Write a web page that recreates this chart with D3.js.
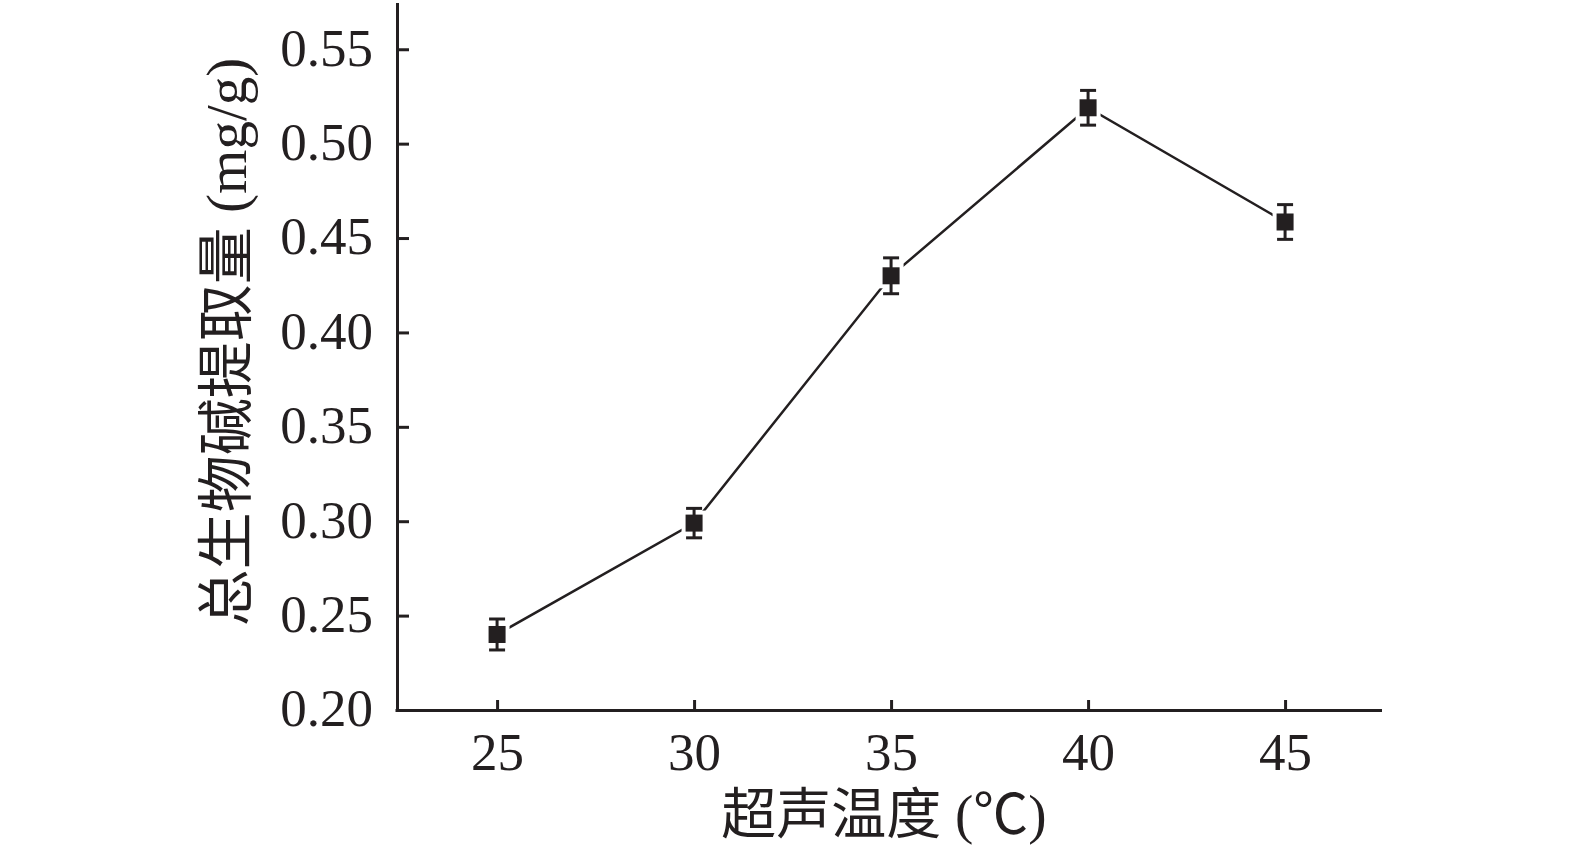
<!DOCTYPE html>
<html><head><meta charset="utf-8">
<script src="https://cdn.jsdelivr.net/npm/d3@7"></script>
<style>
html,body{margin:0;padding:0;background:#fff;}
svg{display:block;}
</style></head>
<body>
<script>
const temps = [25, 30, 35, 40, 45];
const amounts = [0.240, 0.299, 0.430, 0.519, 0.4585];
const errors = [0.0082, 0.0078, 0.0095, 0.0092, 0.0092];
const xTicks = [25, 30, 35, 40, 45];
const yTicks = [0.20, 0.25, 0.30, 0.35, 0.40, 0.45, 0.50, 0.55];
const xTitle = "超声温度 (℃)";
const yTitle = "总生物碱提取量 (mg/g)";

const W = 1575, H = 856;
const ink = "#231f20";
const font = "'Liberation Serif', 'Times New Roman', 'Noto Sans CJK SC', serif";
const svg = d3.select("body").append("svg").attr("width", W).attr("height", H);

const x = d3.scaleLinear().domain([22.46, 47.46]).range([397, 1382]);
const y = d3.scaleLinear().domain([0.20, 0.5745]).range([710, 3]);

// axes
const yAxis = d3.axisLeft(y).tickValues(yTicks).tickSize(-12).tickPadding(24).tickFormat(d3.format(".2f"));
const gy = svg.append("g").attr("transform", `translate(${x.range()[0]},0)`).call(yAxis);
const xAxis = d3.axisBottom(x).tickValues(xTicks).tickSize(-10).tickPadding(22).tickFormat(d3.format("d"));
const gx = svg.append("g").attr("transform", `translate(0,${y.range()[0]})`).call(xAxis);

[gx, gy].forEach(g => {
  g.select(".domain").attr("stroke", ink).attr("stroke-width", 3).attr("d", null);
  g.selectAll(".tick line").attr("stroke", ink).attr("stroke-width", 3);
  g.selectAll(".tick text").attr("fill", ink).style("font-family", font).style("font-size", "53px");
});
gy.select(".domain").attr("d", `M0.5,${y.range()[1]}V${y.range()[0] + 1.5}`);
gx.select(".domain").attr("d", `M${x.range()[0] - 1.5},0.5H${x.range()[1]}`);
gy.selectAll(".tick text").attr("dy", "0.3em");
gx.selectAll(".tick text").attr("dy", "0.71em");

// line
const pts = temps.map((t, i) => ({ t, v: amounts[i], e: errors[i] }));
svg.append("path").datum(pts)
  .attr("fill", "none").attr("stroke", ink).attr("stroke-width", 2.5)
  .attr("d", d3.line().x(d => x(d.t)).y(d => y(d.v)));

// markers with white halo
const g = svg.append("g");
const ms = 17;
g.selectAll("rect.halo").data(pts).join("rect").attr("class", "halo")
  .attr("x", d => x(d.t) - ms / 2 - 4).attr("y", d => y(d.v) - ms / 2 - 4)
  .attr("width", ms + 8).attr("height", ms + 8).attr("fill", "#fff");
// error bars
const cap = 16;
const eb = g.selectAll("g.eb").data(pts).join("g").attr("class", "eb")
  .attr("stroke", ink).attr("stroke-width", 3);
eb.append("line").attr("x1", d => x(d.t)).attr("x2", d => x(d.t))
  .attr("y1", d => y(d.v + d.e)).attr("y2", d => y(d.v - d.e));
eb.append("line").attr("x1", d => x(d.t) - cap / 2).attr("x2", d => x(d.t) + cap / 2)
  .attr("y1", d => y(d.v + d.e)).attr("y2", d => y(d.v + d.e));
eb.append("line").attr("x1", d => x(d.t) - cap / 2).attr("x2", d => x(d.t) + cap / 2)
  .attr("y1", d => y(d.v - d.e)).attr("y2", d => y(d.v - d.e));
g.selectAll("rect.m").data(pts).join("rect").attr("class", "m")
  .attr("x", d => x(d.t) - ms / 2).attr("y", d => y(d.v) - ms / 2)
  .attr("width", ms).attr("height", ms).attr("fill", ink);

// titles
svg.append("text").attr("x", 884).attr("y", 833).attr("text-anchor", "middle")
  .attr("fill", ink).style("font-family", font).style("font-size", "55px").text(xTitle);
svg.append("text").attr("transform", "translate(246,342) rotate(-90)").attr("text-anchor", "middle")
  .attr("fill", ink).style("font-family", font).style("font-size", "57px").text(yTitle);
</script>
</body></html>
